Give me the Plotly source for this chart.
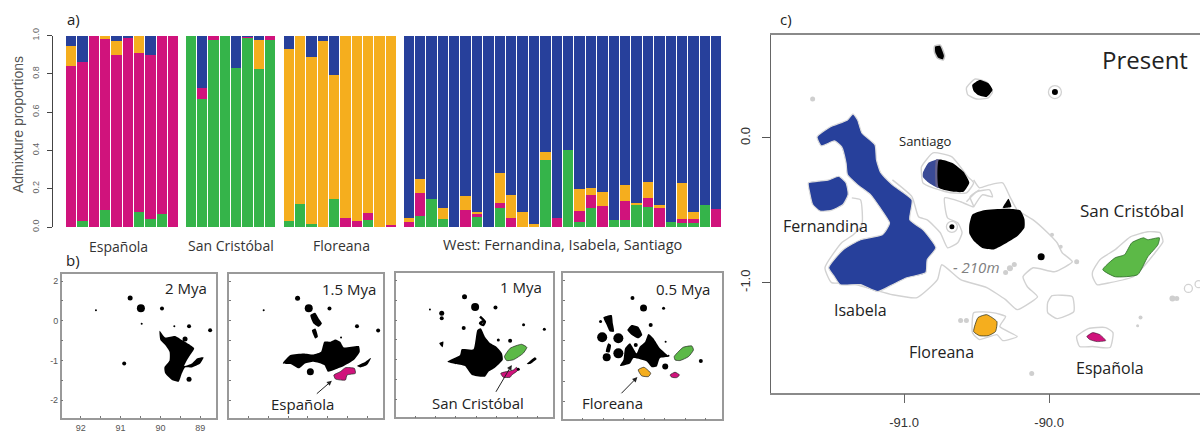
import plotly.graph_objects as go

# ---------- panel a: admixture proportions (bottom to top: green, magenta, yellow, blue) ----------
ESP_GREEN   = [0, .03, 0, .09, 0, 0, .08, .04, .07, 0]
ESP_MAGENTA = [.84, .83, 1, .89, .90, .99, .83, .86, .93, 1]
ESP_YELLOW  = [.105, 0, 0, .02, .07, 0, .09, 0, 0, 0]
ESP_BLUE    = [.055, .14, 0, 0, .03, .01, 0, .10, 0, 0]

SCR_GREEN   = [1, .67, .975, 1, .83, .99, .825, .975]
SCR_MAGENTA = [0, .055, .025, 0, 0, .005, 0, .025]
SCR_YELLOW  = [0, 0, 0, 0, 0, 0, .15, 0]
SCR_BLUE    = [0, .275, 0, 0, .17, .005, .025, 0]

FLO_GREEN   = [.03, .12, .015, 0, .145, 0, 0, .035, 0, 0]
FLO_MAGENTA = [0, 0, 0, 0, 0, .045, .03, .04, 0, .01]
FLO_YELLOW  = [.90, .88, .875, .97, .65, .955, .97, .925, 1, .99]
FLO_BLUE    = [.07, 0, .11, .03, .205, 0, 0, 0, 0, 0]

WST_GREEN   = [0, .06, .146, .04, 0, 0, .05, 0, .10, 0, 0, 0, .352, 0, .404, .026, .10, 0, .037, .035, .113, .103, 0, .026, .02, .02, .115, 0]
WST_MAGENTA = [.025, .115, 0, 0, 0, .09, .023, 0, .027, .047, 0, 0, 0, .049, 0, .056, .067, .11, 0, .101, 0, .05, .10, 0, .02, .022, 0, .096]
WST_YELLOW  = [.022, .075, 0, .06, 0, .072, .007, 0, .157, .118, .078, .015, .04, 0, 0, .118, .038, .075, 0, .082, .011, .084, .017, 0, .19, .035, 0, 0]
WST_BLUE    = [1 - a - b - c for a, b, c in zip(WST_GREEN, WST_MAGENTA, WST_YELLOW)]

GROUP_NAMES = ["Española", "San Cristóbal", "Floreana", "West: Fernandina, Isabela, Santiago"]

# ---------- panel b: paleo-island outlines, (longitude W, latitude) ----------
P1_MAIN = [(90.02,-.25),(89.88,-.42),(89.63,-.385),(89.46,-.486),(89.29,-.587),(89.15,-.696),(89.25,-.863),(89.33,-.989),(89.40,-1.14),(89.21,-1.073),(89.08,-.947),(88.915,-.922),(89.0,-1.073),(89.21,-1.174),(89.38,-1.174),(89.46,-1.324),(89.54,-1.534),(89.71,-1.492),(89.88,-1.324),(89.90,-1.174),(89.77,-1.0),(89.77,-.78),(89.88,-.61),(90.0,-.486)]
P1_DOT_LON = [90.76, 90.49, 89.96, 91.62, 90.47, 89.65, 89.28, 88.75, 89.38, 90.91, 89.28]
P1_DOT_LAT = [.578, .319, .31, .268, -.075, -.134, -.134, -.235, -.461, -1.073, -1.475]
P1_DOT_SIZE = [5, 8, 4, 2, 2, 2, 4, 4, 5, 4, 5]

P2_MAIN = [(91.13,-1.073),(90.94,-.863),(90.61,-.821),(90.36,-.847),(90.17,-.78),(90.09,-.528),(89.94,-.528),(89.81,-.47),(89.69,-.528),(89.60,-.67),(89.225,-.637),(89.20,-.78),(89.35,-.989),(89.60,-1.14),(89.85,-1.24),(90.0,-1.283),(90.09,-1.115),(90.36,-1.031),(90.57,-1.073),(90.73,-1.199),(90.94,-1.09)]
P2_ESP = [(89.85,-1.366),(89.69,-1.283),(89.56,-1.182),(89.335,-1.199),(89.31,-1.324),(89.52,-1.366),(89.56,-1.492),(89.81,-1.467)]
P2_A = [(90.40,-.235),(90.315,-.193),(90.25,-.402),(90.315,-.444)]
P2_B = [(90.44,.143),(90.315,.2),(90.23,.059),(90.15,-.067),(90.23,-.151),(90.36,-.067)]
P2_C = [(89.27,-1.14),(89.06,-1.031),(88.915,-.93),(89.02,-1.115),(89.18,-1.174)]
P2_DOT_LON = [90.76, 90.48, 89.96, 91.61, 89.27, 88.74, 90.44, 89.67]
P2_DOT_LAT = [.57, .319, .31, .268, -.134, -.243, -1.283, -.42]
P2_DOT_SIZE = [5, 8, 4, 2, 4, 4, 7, 2]

P3_MAIN = [(91.21,-1.05),(90.90,-.88),(90.86,-.736),(90.57,-.736),(90.475,-.249),(90.39,-.207),(90.29,-.417),(90.16,-.58),(90.0,-.68),(89.87,-.84),(89.85,-1.0),(90.06,-1.215),(90.20,-1.30),(90.29,-1.425),(90.61,-1.383),(90.78,-1.157),(91.02,-1.106)]
P3_SCR = [(89.81,-.92),(89.67,-.71),(89.39,-.61),(89.26,-.686),(89.35,-.837),(89.59,-1.0),(89.755,-1.02)]
P3_ESP = [(89.90,-1.34),(89.59,-1.257),(89.51,-1.19),(89.49,-1.274),(89.63,-1.383),(89.67,-1.44),(89.84,-1.44)]
P3_A = [(89.26,-1.106),(89.06,-.938),(89.02,-.98),(89.18,-1.106)]
P3_B = [(90.41,.088),(90.29,-.04),(90.33,-.123),(90.41,-.08),(90.33,-.02)]
P3_C = [(91.41,-.585),(91.31,-.543),(91.33,-.686)]
P3_DOT_LON = [90.79, 90.53, 90.03, 91.64, 91.35, 91.35, 90.81, 89.67, 89.96, 89.34, 88.83, 89.47]
P3_DOT_LAT = [.59, .33, .32, .27, .17, .05, -.20, -.52, -.50, -.12, -.23, -1.24]
P3_DOT_SIZE = [5, 8, 4, 2, 5, 4, 4, 4, 3, 3, 3, 3]

P4_MAIN = [(91.01,-.97),(90.97,-.684),(90.85,-.56),(90.77,-.684),(90.69,-.81),(90.61,-.64),(90.48,-.52),(90.40,-.33),(90.28,-.436),(90.12,-.684),(89.91,-.89),(90.12,-.93),(90.20,-1.14),(90.32,-1.156),(90.44,-1.015),(90.77,-.93),(90.85,-1.06),(91.095,-1.12)]
P4_A = [(91.44,-.77),(91.38,-.56),(91.315,-.60),(91.355,-.79)]
P4_B = [(90.915,-.23),(90.81,-.104),(90.65,-.146),(90.55,-.353),(90.65,-.436),(90.81,-.353)]
P4_C = [(91.50,.086),(91.30,.144),(91.27,-.063),(91.24,-.27),(91.34,-.27),(91.42,-.104)]
P4_FLO = [(90.65,-1.22),(90.51,-1.156),(90.345,-1.305),(90.40,-1.388),(90.565,-1.37)]
P4_SCR = [(89.77,-.89),(89.67,-.77),(89.55,-.66),(89.34,-.626),(89.30,-.725),(89.42,-.89),(89.63,-.99),(89.75,-.974)]
P4_ESP = [(89.87,-1.347),(89.75,-1.28),(89.64,-1.347),(89.71,-1.413),(89.83,-1.405)]
P4_DOT_LON = [90.79, 90.52, 90.03, 91.57, 90.345, 90.71, 89.99, 89.12, 89.98, 89.91, 91.53, 91.135, 91.42, 91.135]
P4_DOT_LAT = [.567, .318, .31, -.02, -.104, -.6, -1.14, -1.0, -.52, -.87, -.41, -.435, -.91, -.81]
P4_DOT_SIZE = [4, 7, 3, 3, 4, 4, 6, 4, 2, 2, 10, 10, 8, 10]

# ---------- panel c: present-day map, (longitude, latitude) ----------
ISABELA = [(-91.352,.166),(-91.32,.124),(-91.29,.034),(-91.20,-.048),(-91.19,-.152),(-91.16,-.241),(-91.08,-.324),(-90.945,-.428),(-90.96,-.566),(-90.87,-.634),(-90.78,-.759),(-90.84,-.841),(-90.85,-.931),(-90.98,-.966),(-91.08,-1.014),(-91.18,-1.062),(-91.30,-1.014),(-91.44,-1.014),(-91.48,-.959),(-91.52,-.897),(-91.42,-.772),(-91.30,-.703),(-91.15,-.669),(-91.11,-.614),(-91.10,-.586),(-91.17,-.476),(-91.23,-.393),(-91.32,-.324),(-91.39,-.255),(-91.40,-.172),(-91.43,-.062),(-91.48,-.021),(-91.57,-.055),(-91.60,.007),(-91.51,.076),(-91.39,.124)]
FERNANDINA = [(-91.66,-.31),(-91.60,-.30),(-91.52,-.29),(-91.45,-.265),(-91.40,-.31),(-91.385,-.39),(-91.42,-.46),(-91.50,-.50),(-91.58,-.505),(-91.63,-.46),(-91.65,-.38)]
SANTIAGO_WEST = [(-90.87,-.24),(-90.83,-.17),(-90.76,-.15),(-90.76,-.345),(-90.83,-.31),(-90.87,-.27)]
SANTIAGO_BAND = [(-90.78,-.15),(-90.76,-.15),(-90.76,-.345),(-90.78,-.335)]
SANTIAGO_EAST = [(-90.76,-.15),(-90.67,-.172),(-90.59,-.234),(-90.55,-.31),(-90.59,-.372),(-90.66,-.372),(-90.76,-.345)]
SANTA_CRUZ = [(-90.55,-.60),(-90.53,-.53),(-90.45,-.50),(-90.30,-.49),(-90.20,-.50),(-90.17,-.56),(-90.17,-.62),(-90.22,-.68),(-90.30,-.73),(-90.38,-.77),(-90.46,-.76),(-90.52,-.71),(-90.55,-.66)]
BALTRA = [(-90.28,-.42),(-90.26,-.476),(-90.32,-.483),(-90.30,-.448)]
WOLF = [(-90.79,.634),(-90.75,.641),(-90.72,.566),(-90.73,.538),(-90.77,.552),(-90.79,.593)]
PINTA = [(-90.53,.366),(-90.48,.40),(-90.42,.379),(-90.39,.331),(-90.43,.283),(-90.49,.297),(-90.52,.324)]
SAN_CRISTOBAL = [(-89.63,-.91),(-89.545,-.828),(-89.48,-.807),(-89.43,-.724),(-89.35,-.69),(-89.32,-.703),(-89.24,-.69),(-89.25,-.738),(-89.32,-.821),(-89.39,-.945),(-89.545,-.959)]
FLOREANA = [(-90.52,-1.338),(-90.49,-1.241),(-90.43,-1.221),(-90.36,-1.269),(-90.37,-1.338),(-90.42,-1.366),(-90.48,-1.366)]
ESPANOLA = [(-89.74,-1.372),(-89.70,-1.345),(-89.65,-1.359),(-89.61,-1.40),(-89.67,-1.407),(-89.72,-1.393)]
BLACK_DOT_LON = [-89.96, -90.67, -90.055]
BLACK_DOT_LAT = [.317, -.614, -.82]
BLACK_DOT_SIZE = [6, 5, 7]

CONTOUR_MAIN = [(-90.52,-.29),(-90.48,-.345),(-90.41,-.324),(-90.32,-.31),(-90.27,-.407),(-90.22,-.497),(-90.11,-.566),(-90.01,-.655),(-89.945,-.724),(-89.91,-.793),(-89.84,-.855),(-89.96,-.924),(-90.11,-.897),(-90.18,-.959),(-90.15,-1.028),(-90.08,-1.097),(-90.13,-1.138),(-90.22,-1.186),(-90.30,-1.117),(-90.43,-1.034),(-90.61,-.979),(-90.74,-.876),(-90.77,-.979),(-90.91,-1.103),(-91.08,-1.083),(-91.21,-1.048),(-91.39,-1.0),(-91.50,-1.0),(-91.545,-.897),(-91.43,-.724),(-91.35,-.669),(-91.29,-.60),(-91.30,-.428),(-91.36,-.414)]
CONTOUR_INNER = [(-91.08,-.29),(-90.945,-.407),(-90.90,-.545),(-90.84,-.566),(-90.75,-.655),(-90.70,-.759),(-90.63,-.724),(-90.60,-.655),(-90.63,-.586),(-90.70,-.552),(-90.72,-.414),(-90.61,-.441),(-90.52,-.476),(-90.545,-.407),(-90.48,-.359)]
CONTOUR_SQUIGGLE = [(-90.57,-.441),(-90.50,-.372),(-90.41,-.359),(-90.39,-.407),(-90.46,-.393),(-90.52,-.476)]
RING_SANTIAGO = [(-90.88,-.2),(-90.80,-.103),(-90.67,-.131),(-90.56,-.269),(-90.52,-.31),(-90.57,-.379),(-90.68,-.379),(-90.80,-.345),(-90.87,-.31),(-90.88,-.241)]
RING_PINTA = [(-90.57,.345),(-90.51,.407),(-90.43,.386),(-90.39,.317),(-90.42,.276),(-90.50,.269),(-90.56,.297)]
RING_SCR = [(-89.70,-.924),(-89.65,-.841),(-89.545,-.772),(-89.44,-.683),(-89.32,-.648),(-89.235,-.655),(-89.215,-.717),(-89.27,-.793),(-89.35,-.89),(-89.42,-.959),(-89.58,-1.0),(-89.67,-1.014),(-89.70,-.959)]
RING_FLO = [(-90.53,-1.338),(-90.52,-1.207),(-90.39,-1.207),(-90.30,-1.234),(-90.34,-1.303),(-90.22,-1.372),(-90.32,-1.40),(-90.36,-1.359),(-90.48,-1.393),(-90.52,-1.359)]
RING_ESP = [(-89.81,-1.372),(-89.73,-1.317),(-89.61,-1.31),(-89.56,-1.345),(-89.58,-1.448),(-89.70,-1.441),(-89.79,-1.441)]
RING_SHOAL = [(-90.01,-1.138),(-89.98,-1.09),(-89.84,-1.097),(-89.83,-1.2),(-89.945,-1.248),(-90.01,-1.207)]
GREY_DOT_LON = [-91.63, -89.15, -89.12, -90.30, -90.27, -90.24, -89.81, -89.98, -89.92, -90.61, -90.57, -89.37, -89.39, -90.12]
GREY_DOT_LAT = [.269, -1.11, -1.11, -.93, -.90, -.875, -.855, -.669, -.752, -1.262, -1.262, -1.241, -1.297, -1.628]
GREY_DOT_SIZE = [5, 6, 5, 5, 6, 5, 5, 4, 4, 5, 5, 4, 3, 5]
RING_DOT_LON = [-89.96, -90.67, -89.04, -88.97]
RING_DOT_LAT = [.317, -.614, -1.04, -1.01]
RING_DOT_SIZE = [13, 11, 8, 7]

# ---------- styles ----------
GREEN, MAGENTA, YELLOW, BLUE = "#35b44a", "#d0137c", "#f5ae1e", "#27409b"
MAP_GREEN = "#5cb947"
CONTOUR = "#d2d2d2"
W, H = 1200, 434
FONT = "Open Sans"


def dx(a, b):
    return [a / W, b / W]


def dy(top, bottom):
    return [1 - bottom / H, 1 - top / H]


fig = go.Figure()

# panel a
groups = [
    ("x", (ESP_GREEN, ESP_MAGENTA, ESP_YELLOW, ESP_BLUE)),
    ("x2", (SCR_GREEN, SCR_MAGENTA, SCR_YELLOW, SCR_BLUE)),
    ("x3", (FLO_GREEN, FLO_MAGENTA, FLO_YELLOW, FLO_BLUE)),
    ("x4", (WST_GREEN, WST_MAGENTA, WST_YELLOW, WST_BLUE)),
]
for ax, series in groups:
    for vals, col in zip(series, (GREEN, MAGENTA, YELLOW, BLUE)):
        fig.add_trace(go.Bar(x=list(range(1, len(vals) + 1)), y=vals, xaxis=ax, yaxis="y",
                             marker=dict(color=col, line_width=0), showlegend=False))


def poly(ax, ay, pts, fill=None, line=None, width=0.0):
    xs = [p[0] for p in pts] + [pts[0][0]]
    ys = [p[1] for p in pts] + [pts[0][1]]
    fig.add_trace(go.Scatter(x=xs, y=ys, xaxis=ax, yaxis=ay, mode="lines",
                             fill="toself" if fill else "none", fillcolor=fill,
                             line=dict(color=line or fill or "#000", width=width, shape="spline", smoothing=0.5),
                             showlegend=False, hoverinfo="skip"))


def path(ax, ay, pts, color=CONTOUR, width=1.4):
    fig.add_trace(go.Scatter(x=[p[0] for p in pts], y=[p[1] for p in pts], xaxis=ax, yaxis=ay,
                             mode="lines", line=dict(color=color, width=width, shape="spline", smoothing=0.5),
                             showlegend=False, hoverinfo="skip"))


def dots(ax, ay, lon, lat, size, color="#000", ring=False):
    fig.add_trace(go.Scatter(x=lon, y=lat, xaxis=ax, yaxis=ay, mode="markers",
                             marker=dict(size=size, opacity=1, color="rgba(0,0,0,0)" if ring else color,
                                         line=dict(color=color, width=1.3 if ring else 0)),
                             showlegend=False, hoverinfo="skip"))


# panel b
for pts in (P1_MAIN,):
    poly("x5", "y5", pts, "#000")
dots("x5", "y5", P1_DOT_LON, P1_DOT_LAT, P1_DOT_SIZE)

for pts in (P2_MAIN, P2_A, P2_B, P2_C):
    poly("x6", "y6", pts, "#000")
poly("x6", "y6", P2_ESP, MAGENTA, "#222", 0.7)
dots("x6", "y6", P2_DOT_LON, P2_DOT_LAT, P2_DOT_SIZE)

for pts in (P3_MAIN, P3_A, P3_C):
    poly("x7", "y7", pts, "#000")
path("x7", "y7", P3_B, "#000", 2.5)
poly("x7", "y7", P3_SCR, MAP_GREEN, "#222", 0.7)
poly("x7", "y7", P3_ESP, MAGENTA, "#222", 0.7)
dots("x7", "y7", P3_DOT_LON, P3_DOT_LAT, P3_DOT_SIZE)

for pts in (P4_MAIN, P4_A, P4_B, P4_C):
    poly("x8", "y8", pts, "#000")
poly("x8", "y8", P4_SCR, MAP_GREEN, "#222", 0.7)
poly("x8", "y8", P4_FLO, YELLOW, "#222", 0.7)
poly("x8", "y8", P4_ESP, MAGENTA, "#222", 0.7)
dots("x8", "y8", P4_DOT_LON, P4_DOT_LAT, P4_DOT_SIZE)

# panel c
for pts in (CONTOUR_MAIN, CONTOUR_INNER, CONTOUR_SQUIGGLE):
    path("x9", "y9", pts)
for pts in (RING_SANTIAGO, RING_PINTA, RING_SCR, RING_FLO, RING_ESP, RING_SHOAL):
    poly("x9", "y9", pts, None, CONTOUR, 1.4)
dots("x9", "y9", GREY_DOT_LON, GREY_DOT_LAT, GREY_DOT_SIZE, "#cfcfcf")
dots("x9", "y9", RING_DOT_LON, RING_DOT_LAT, RING_DOT_SIZE, CONTOUR, ring=True)
for pts in (ISABELA, FERNANDINA):
    poly("x9", "y9", pts, BLUE, "#dcdcdc", 1.2)
poly("x9", "y9", SANTIAGO_WEST, "#3a4a96")
poly("x9", "y9", SANTIAGO_BAND, "#66628c")
for pts in (SANTIAGO_EAST, SANTA_CRUZ, BALTRA, PINTA):
    poly("x9", "y9", pts, "#000")
poly("x9", "y9", WOLF, "#000", "#c4c4c4", 1.5)
poly("x9", "y9", SAN_CRISTOBAL, MAP_GREEN, "#2e6b2a", 0.8)
poly("x9", "y9", FLOREANA, YELLOW, "#3a3a20", 0.8)
poly("x9", "y9", ESPANOLA, MAGENTA, "#3a1a30", 0.6)
dots("x9", "y9", BLACK_DOT_LON, BLACK_DOT_LAT, BLACK_DOT_SIZE)

layout = dict(
    width=W, height=H, margin=dict(l=0, r=0, t=0, b=0, pad=0), autosize=False,
    paper_bgcolor="white", plot_bgcolor="white", barmode="stack", bargap=0.09,
    font=dict(family=FONT, color="#333"), showlegend=False,
    yaxis=dict(domain=dy(35.5, 227), range=[0, 1], anchor="free", position=52 / W,
               tickvals=[0, .2, .4, .6, .8, 1], ticktext=["0.0", "0.2", "0.4", "0.6", "0.8", "1.0"],
               tickangle=-90, ticks="outside", ticklen=5, tickcolor="#444", showline=True,
               linecolor="#444", linewidth=1, showgrid=False, zeroline=False, ticklabelstandoff=4,
               tickfont=dict(family="Liberation Sans", size=9, color="#666")),
)
for name, a, b, n in (("xaxis", 65.5, 179, 10), ("xaxis2", 185, 276, 8), ("xaxis3", 283, 396.5, 10), ("xaxis4", 403, 722, 28)):
    layout[name] = dict(domain=dx(a, b), range=[0.5, n + 0.5], visible=False, anchor="y")

half_x = [92, 91.5, 91, 90.5, 90, 89.5, 89]
half_y = [1, .5, 0, -.5, -1, -1.5, -2]
frames = [(5, 61.7, 215.7, 274, 418), (6, 229, 383.3, 274, 418), (7, 395.7, 553.3, 273.3, 417.3), (8, 563.3, 721.7, 273.3, 419.3)]
for i, a, b, t, bt in frames:
    first = i == 5
    common = dict(showgrid=False, zeroline=False, showline=True, linecolor="#999", linewidth=1.5,
                  mirror=True, ticks="inside", ticklen=2, tickcolor="#777",
                  tickfont=dict(family="Liberation Sans", size=9, color="#555"))
    layout[f"xaxis{i}"] = dict(domain=dx(a, b), range=[92.48, 88.61], anchor=f"y{i}", tickvals=half_x,
                               ticktext=["92", "", "91", "", "90", "", "89"] if first else [""] * 7, **common)
    layout[f"yaxis{i}"] = dict(domain=dy(t, bt), range=[-2.45, 1.18], anchor=f"x{i}", tickvals=half_y,
                               ticktext=["2", "", "0", "", "-1", "", "-2"] if first else [""] * 7, **common)

layout["xaxis9"] = dict(domain=dx(771, 1200), range=[-91.917, -88.96], anchor="y9", tickvals=[-91, -90],
                        ticktext=["-91.0", "-90.0"], ticks="outside", ticklen=9, tickcolor="#666",
                        showline=True, linecolor="#8a8a8a", linewidth=1.5, mirror=True, showgrid=False,
                        zeroline=False, ticklabelstandoff=8,
                        tickfont=dict(family="Liberation Sans", size=13, color="#333"))
layout["yaxis9"] = dict(domain=dy(35, 392.7), range=[-1.76, 0.711], anchor="x9", tickvals=[0, -1],
                        ticktext=["0.0", "-1.0"], tickangle=-90, ticks="outside", ticklen=8, tickcolor="#555",
                        showline=True, linecolor="#666", linewidth=1.2, showgrid=False, zeroline=False,
                        ticklabelstandoff=7, tickfont=dict(family="Liberation Sans", size=13, color="#333"))

LABELS = [
    ("a)", 73, 19, 15, "#222"), ("b)", 73, 260, 15, "#222"), ("c)", 786, 19, 15, "#222"),
    (GROUP_NAMES[0], 118, 246, 14, "#333"), (GROUP_NAMES[1], 231, 245, 14, "#333"),
    (GROUP_NAMES[2], 341, 245, 14, "#333"), (GROUP_NAMES[3], 562, 244, 14.5, "#333"),
    ("2 Mya", 186, 288, 15, "#222"), ("1.5 Mya", 349, 289, 15, "#222"), ("1 Mya", 521, 287, 15, "#222"),
    ("0.5 Mya", 683, 289, 15, "#222"),
    ("Española", 302, 404, 15, "#222"), ("San Cristóbal", 478, 403, 15, "#222"), ("Floreana", 612, 403, 15, "#222"),
    ("Present", 1145, 59, 24, "#222"), ("Santiago", 926, 141, 13, "#222"), ("Fernandina", 825, 226, 16, "#222"),
    ("Isabela", 860, 310, 16, "#222"), ("Floreana", 941, 352, 16, "#222"), ("Española", 1110, 368, 16, "#222"),
    ("San Cristóbal", 1132, 210, 17, "#222"),
]
anns = [dict(text=t, x=x / W, y=1 - y / H, xref="paper", yref="paper", showarrow=False, xanchor="center",
             yanchor="middle", font=dict(size=s, color=c, family=FONT)) for t, x, y, s, c in LABELS]
anns.append(dict(text="<i>- 210m</i>", x=976 / W, y=1 - 267 / H, xref="paper", yref="paper", showarrow=False,
                 xanchor="center", yanchor="middle", font=dict(size=15, color="#808080", family=FONT)))
anns.append(dict(text="Admixture proportions", x=18 / W, y=1 - 125 / H, xref="paper", yref="paper", showarrow=False,
                 xanchor="center", yanchor="middle", textangle=-90,
                 font=dict(size=14, color="#555", family="Liberation Sans")))
for ax_, ay_, x0, y0, x1, y1 in (("x6", "y6", 90.315, -1.87, 89.90, -1.51),
                                 ("x7", "y7", 90.04, -1.845, 89.63, -1.13),
                                 ("x8", "y8", 91.095, -1.84, 90.67, -1.40)):
    anns.append(dict(text="", x=x1, y=y1, ax=x0, ay=y0, xref=ax_, yref=ay_, axref=ax_, ayref=ay_, showarrow=True,
                     arrowhead=2, arrowsize=1, arrowwidth=1, arrowcolor="#222"))
layout["annotations"] = anns
fig.update_layout(**layout)
fig.update_xaxes(automargin=False)
fig.update_yaxes(automargin=False)
fig.write_html("out.html", config=dict(displayModeBar=False),
               post_script="document.body.style.margin='0';document.body.style.overflow='hidden';")
